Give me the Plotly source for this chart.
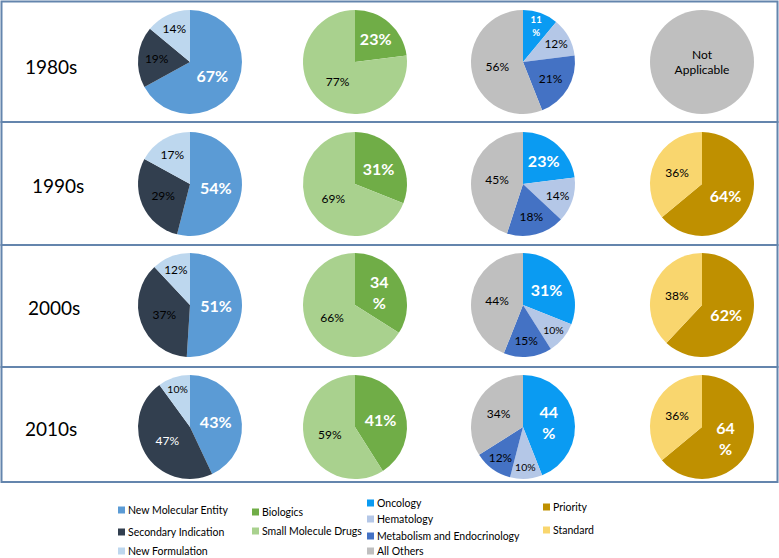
import plotly.graph_objects as go

W, H = 779, 558

decades = ["1980s", "1990s", "2000s", "2010s"]

type_labels = ["New Molecular Entity", "Secondary Indication", "New Formulation"]
type_values = [[67, 19, 14], [54, 29, 17], [51, 37, 12], [43, 47, 10]]

mol_labels = ["Biologics", "Small Molecule Drugs"]
mol_values = [[23, 77], [31, 69], [34, 66], [41, 59]]

area_labels = ["Oncology", "Hematology", "Metabolism and Endocrinology", "All Others"]
area_values = [[11, 12, 21, 56], [23, 14, 18, 45], [31, 10, 15, 44], [44, 10, 12, 34]]

review_labels = ["Priority", "Standard"]
review_values = [None, [64, 36], [62, 38], [64, 36]]

type_colors = ["#5b9bd5", "#323f4f", "#bdd7ee"]
mol_colors = ["#70ad47", "#a9d18e"]
area_colors = ["#0a9bf2", "#b4c7e7", "#4472c4", "#bfbfbf"]
review_colors = ["#bf9000", "#f9d66e"]
na_color = "#bfbfbf"

# label texts (as printed in the figure, some wrapped)
type_text = [["67%", "19%", "14%"], ["54%", "29%", "17%"], ["51%", "37%", "12%"], ["43%", "47%", "10%"]]
mol_text = [["23%", "77%"], ["31%", "69%"], ["34<br>%", "66%"], ["41%", "59%"]]
area_text = [["11<br>%", "12%", "21%", "56%"], ["23%", "14%", "18%", "45%"],
             ["31%", "10%", "15%", "44%"], ["44<br>%", "10%", "12%", "34%"]]
review_text = [None, ["64%", "36%"], ["62%", "38%"], ["64<br>%", "36%"]]

FONT = "Lato"


def px_x(p):
    return p / W


def px_y(p):
    return 1 - p / H


col_cx = [190, 355, 523, 702]
row_cy = [62, 184, 305, 427]
R = 52

fig = go.Figure()

BIG = dict(color="white", size=16, family=FONT, weight="bold")
SMALL = dict(color="black", size=12, family=FONT, weight="normal")
SMALLW = dict(color="white", size=12, family=FONT, weight="normal")


def add_pie(vals, labels, colors, texts, fonts, ci, ri, name):
    cx, cy = col_cx[ci], row_cy[ri]
    fig.add_trace(go.Pie(
        values=vals, labels=labels, text=texts, textinfo="text",
        textposition="inside", insidetextorientation="horizontal",
        sort=False, direction="clockwise", rotation=0,
        marker=dict(colors=colors, line=dict(width=0)),
        insidetextfont=dict(color=[f["color"] for f in fonts],
                            size=[f["size"] for f in fonts],
                            family=[f["family"] for f in fonts],
                            weight=[f["weight"] for f in fonts]),
        domain=dict(x=[px_x(cx - R), px_x(cx + R)], y=[px_y(cy + R), px_y(cy - R)]),
        showlegend=False, hoverinfo="label+percent", name=name,
    ))


for ri in range(4):
    f1 = [BIG, SMALL, SMALL]
    if ri == 3:
        f1 = [BIG, SMALLW, SMALL]
    add_pie(type_values[ri], type_labels, type_colors, type_text[ri], f1, 0, ri, "type")
    add_pie(mol_values[ri], mol_labels, mol_colors, mol_text[ri], [BIG, SMALL], 1, ri, "mol")
    add_pie(area_values[ri], area_labels, area_colors, area_text[ri],
            [BIG, SMALL, SMALL, SMALL], 2, ri, "area")
    if review_values[ri] is None:
        add_pie([1], ["Not Applicable"], [na_color], ["Not<br>Applicable"],
                [dict(color="black", size=12, family=FONT, weight="normal")], 3, ri, "review")
    else:
        add_pie(review_values[ri], review_labels, review_colors, review_text[ri],
                [BIG, SMALL], 3, ri, "review")

# row boxes
box_edges = [1, 122, 245, 367, 482]
shapes = []
for i in range(4):
    shapes.append(dict(type="rect", xref="paper", yref="paper",
                       x0=px_x(1.5), x1=px_x(777.5),
                       y0=px_y(box_edges[i + 1]), y1=px_y(box_edges[i] + (0.5 if i == 0 else 0)),
                       line=dict(color="#6485ad", width=2), fillcolor="rgba(0,0,0,0)",
                       layer="below"))

annotations = []
row_label_x = [51, 58, 54, 51]
row_label_y = [67, 185, 307, 428]
for i, d in enumerate(decades):
    annotations.append(dict(text=d, x=px_x(row_label_x[i]), y=px_y(row_label_y[i]),
                            xref="paper", yref="paper",
                            showarrow=False, font=dict(size=19, color="black", family=FONT),
                            xanchor="center", yanchor="middle"))

# legend (manual, four columns)
legend_cols = [
    (118, type_labels, type_colors, [510, 532, 551]),
    (252, mol_labels, mol_colors, [512, 531]),
    (367, area_labels, area_colors, [503, 519, 536, 551]),
    (543, review_labels, review_colors, [507, 530]),
]
SQ = 7
for x0, labs, cols, ys in legend_cols:
    for lab, col, y in zip(labs, cols, ys):
        shapes.append(dict(type="rect", xref="paper", yref="paper",
                           x0=px_x(x0), x1=px_x(x0 + SQ), y0=px_y(y + SQ / 2), y1=px_y(y - SQ / 2),
                           line=dict(width=0), fillcolor=col))
        annotations.append(dict(text=lab, x=px_x(x0 + SQ + 1), y=px_y(y), xref="paper", yref="paper",
                                showarrow=False, xanchor="left", yanchor="middle",
                                font=dict(size=10.5, color="black", family=FONT)))

fig.update_layout(
    width=W, height=H,
    margin=dict(l=0, r=0, t=0, b=0),
    paper_bgcolor="white", plot_bgcolor="white",
    shapes=shapes, annotations=annotations,
    font=dict(family=FONT),
)

fig.write_html("out.html", config={"displayModeBar": False},
               post_script="document.body.style.margin='0';")
